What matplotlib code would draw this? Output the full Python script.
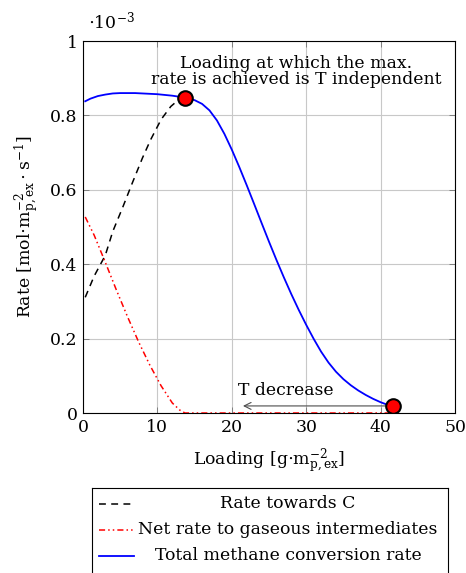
import numpy as np
import matplotlib
matplotlib.use("Agg")
import matplotlib.pyplot as plt
from matplotlib.lines import Line2D

plt.rcParams['font.family'] = ['DejaVu Serif']
plt.rcParams['mathtext.fontset'] = 'dejavuserif'
plt.rcParams['font.size'] = 12.4

# Values (rate in units of 1e-3 mol m^-2 s^-1)
loading_c = [0.3, 1.5, 3.0, 4.0, 5.3, 6.6, 8.0, 9.1, 10.5, 11.8, 12.9, 13.75]
rate_c = [0.311, 0.368, 0.424, 0.488, 0.551, 0.617, 0.686, 0.735, 0.789, 0.824, 0.843, 0.847]

loading_gas = [0.3, 1.5, 3.0, 4.5, 6.0, 7.5, 9.0, 10.5, 12.0, 13.0, 13.7, 20.0, 30.0, 41.6]
rate_gas = [0.527, 0.478, 0.405, 0.330, 0.258, 0.190, 0.128, 0.073, 0.027, 0.008, 0.0, 0.0, 0.0, 0.0]

loading_tot = [0.3, 1.0, 2.0, 3.0, 4.0, 5.0, 6.0, 7.0, 8.0, 9.0, 10.0, 11.0, 12.0, 13.0,
               13.75, 14.0, 15.0, 16.0, 17.0, 18.0, 19.0, 20.0, 21.0, 22.0, 23.0, 24.0,
               25.0, 26.0, 27.0, 28.0, 29.0, 30.0, 31.0, 32.0, 33.0, 34.0, 35.0, 36.0,
               37.0, 38.0, 39.0, 40.0, 41.0, 41.6]
rate_tot = [0.838, 0.845, 0.852, 0.856, 0.859, 0.860, 0.860, 0.860, 0.859, 0.858, 0.857,
            0.855, 0.853, 0.850, 0.8475, 0.8465, 0.841, 0.831, 0.8135, 0.7865, 0.7505,
            0.708, 0.6615, 0.6125, 0.562, 0.511, 0.4605, 0.4115, 0.3645, 0.3195, 0.277,
            0.237, 0.1995, 0.165, 0.1355, 0.111, 0.091, 0.0745, 0.0605, 0.0485, 0.038,
            0.029, 0.0215, 0.019]

marker_x = [13.75, 41.6]
marker_y = [0.847, 0.019]

labels = ['Rate towards C', 'Net rate to gaseous intermediates',
          'Total methane conversion rate']

W, H = 466, 573
fig = plt.figure(figsize=(W / 100, H / 100), dpi=100)
ax = fig.add_axes([83 / W, 1 - 413 / H, 372 / W, 372 / H])

styles = [
    dict(color='black', lw=1.1, dashes=(4.5, 3.5)),
    dict(color='red', lw=1.1, dashes=(4, 2, 1, 2, 1, 2)),
    dict(color='blue', lw=1.3, linestyle='-'),
]
series = [(loading_c, rate_c), (loading_gas, rate_gas), (loading_tot, rate_tot)]
for (xs, ys), st in zip(series, styles):
    ax.plot(xs, ys, **st, solid_joinstyle='round', zorder=3)

ax.plot(marker_x, marker_y, 'o', ms=10.5, mfc='red', mec='black', mew=1.5,
        linestyle='none', zorder=5)

ax.annotate('', xy=(21.5, marker_y[1]), xytext=(marker_x[1], marker_y[1]),
            arrowprops=dict(arrowstyle='->', color='0.3', lw=0.8,
                            shrinkA=0, shrinkB=0), zorder=4)
ax.text(27.2, 0.048, 'T decrease', ha='center', va='baseline')
ax.text(28.7, 0.918, 'Loading at which the max.\nrate is achieved is T independent',
        ha='center', va='center', linespacing=0.95)

ax.set_xlim(0, 50)
ax.set_ylim(0, 1)
ax.set_xticks([0, 10, 20, 30, 40, 50])
ax.set_yticks([0, 0.2, 0.4, 0.6, 0.8, 1.0])
ax.set_yticklabels([f'{v:g}' for v in [0, 0.2, 0.4, 0.6, 0.8, 1.0]])
ax.grid(True, color='#c8c8c8', lw=0.8)
ax.set_axisbelow(True)
ax.tick_params(direction='in', top=True, right=True, length=4, width=0.6,
               color='0.45', pad=4)
for sp in ax.spines.values():
    sp.set_linewidth(0.8)

ax.set_xlabel(r'Loading [g$\cdot\mathrm{m}_{\mathrm{p,ex}}^{-2}$]', labelpad=8)
ax.set_ylabel(r'Rate [mol$\cdot\mathrm{m}_{\mathrm{p,ex}}^{-2}\cdot\mathrm{s}^{-1}$]')
ax.yaxis.set_label_coords((41 - 83) / 372, 0.5)
fig.text(88 / W, 1 - 28 / H, r'$\cdot 10^{-3}$', va='baseline', ha='left')

# legend box (pgfplots style, centred text)
lax = fig.add_axes([92 / W, 1 - 640 / H, 356 / W, 152 / H])
lax.set_xlim(92, 448)
lax.set_ylim(640, 488)
lax.set_xticks([])
lax.set_yticks([])
for sp in lax.spines.values():
    sp.set_linewidth(0.8)
rows = [504, 530, 556]
for lab, st, yr in zip(labels, styles, rows):
    lax.add_line(Line2D([99, 134], [yr, yr], **st))
    lax.text(288, yr, lab, ha='center', va='center')

fig.savefig('out.png', dpi=100)
